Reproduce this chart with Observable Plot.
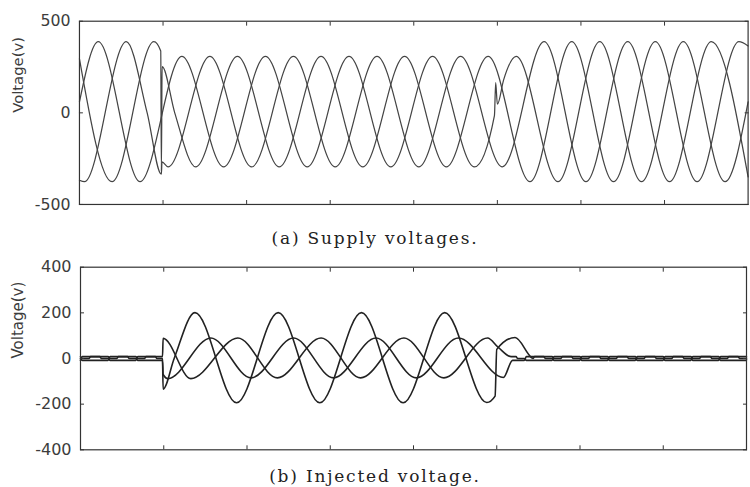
<!DOCTYPE html>
<html><head><meta charset="utf-8">
<script src="https://cdn.jsdelivr.net/npm/d3@7"></script>
<script src="https://cdn.jsdelivr.net/npm/@observablehq/plot@0.6"></script>
<style>
html,body{margin:0;padding:0;background:#fff;overflow:hidden;width:750px;height:487px}
#wrap{position:relative;width:750px;height:487px;overflow:hidden;background:#fff}
.panel{position:absolute;left:0}
.cap{position:absolute;left:0;width:750px;text-align:center;font-family:"DejaVu Serif",serif;font-size:17px;line-height:18px;letter-spacing:1.8px;color:#222}
</style></head><body><div id="wrap">
<div id="top" class="panel" style="top:0"></div>
<div class="cap" id="capA" style="top:229px"></div>
<div id="bot" class="panel" style="top:250px"></div>
<div class="cap" id="capB" style="top:467px"></div>
</div>
<script>
// time in ms, voltage in V
const xTicks = [20, 40, 60, 80, 100, 120, 140];
const supplyTicks = [-500, 0, 500];
const injectedTicks = [-400, -200, 0, 200, 400];
const yLabel = "Voltage(v)";
const captions = ["(a) Supply voltages.", "(b) Injected voltage."];

// (a) supply voltages: extrema and transient points
const supplyA = [[0,60],[4.5,388],[14.5,-376],[24.5,308],[34.5,-295],[44.5,308],[54.5,-295],[64.5,308],[74.5,-295],[84.5,308],[94.5,-295],[99.3,-15],[99.6,165],[100.0,47],[101.5,180],[104.5,308],[114.5,-376],[124.5,388],[134.5,-376],[144.5,388],[154.5,-376],[160,60]];
const supplyB = [[0,-368],[1.2,-376],[11.2,388],[16.2,0],[19.6,-335],[19.75,-268],[21.2,-295],[31.2,308],[41.2,-295],[51.2,308],[61.2,-295],[71.2,308],[81.2,-295],[91.2,308],[101.2,-295],[111.2,388],[121.2,-376],[131.2,388],[141.2,-376],[151.2,388],[160,-350]];
const supplyC = [[0,295],[7.8,-376],[17.8,388],[19.45,337],[19.6,-318],[19.78,252],[22.8,0],[27.8,-295],[37.8,308],[47.8,-295],[57.8,308],[67.8,-295],[77.8,308],[87.8,-295],[97.8,308],[107.8,-376],[117.8,388],[127.8,-376],[137.8,388],[147.8,-376],[157.8,388],[160,365]];

// (b) injected voltages (small ripple levels of about ±8 V outside the sag)
const injBig = [[0,-8],[0.45,8],[6.62,8],[7.12,0],[8.7,0],[9.1,8],[11.3,8],[11.7,0],[13.28,0],[13.78,-8],[19.7,-8],
  [19.85,-134],[22.5,0],[27.5,201],[37.5,-194],[47.5,201],[57.5,-194],[67.5,201],[77.5,-194],[87.5,201],[97.6,-193],[99.6,-165],[100.0,40],[104.4,92],[108.5,2],
  [108.7,0],[109.1,8],[111.3,8],[111.7,0],[113.28,0],[113.78,-8],[119.95,-8],[120.45,8],[126.62,8],[127.12,0],[128.7,0],[129.1,8],[131.3,8],[131.7,0],[133.28,0],[133.78,-8],[139.95,-8],
  [140.45,8],[146.62,8],[147.12,0],[148.7,0],[149.1,8],[151.3,8],[151.7,0],[153.28,0],[153.78,-8],[159.95,-8],[160,-6]];
const injM1 = [[0,0],[0.45,-8],[6.62,-8],[7.12,8],[13.28,8],[13.78,0],[15.37,0],[15.77,8],[17.97,8],[18.37,0],[19.7,0],
  [19.85,-70],[21,-88],[31.3,90],[41,-85],[51.2,90],[60.8,-85],[71,90],[80.7,-85],[90.8,90],[101.6,-83],[103.8,-8],
  [106.62,-8],[107.12,8],[113.28,8],[113.78,0],[115.37,0],[115.77,8],[117.97,8],[118.37,0],[119.95,0],[120.45,-8],[126.62,-8],[127.12,8],[133.28,8],[133.78,0],[135.37,0],[135.77,8],[137.97,8],[138.37,0],[139.95,0],
  [140.45,-8],[146.62,-8],[147.12,8],[153.28,8],[153.78,0],[155.37,0],[155.77,8],[157.97,8],[158.37,0],[160,0]];
const injM2 = [[0,8],[0.45,0],[2.03,0],[2.43,8],[4.63,8],[5.03,0],[6.62,0],[7.12,-8],[13.28,-8],[13.78,8],[19.7,8],
  [19.85,88],[26.5,-88],[37.8,90],[47.3,-85],[57.8,90],[67.3,-85],[77.7,90],[87.3,-85],[97.8,90],[100.3,50],[103.5,8],
  [104.63,8],[105.03,0],[106.62,0],[107.12,-8],[113.28,-8],[113.78,8],[119.95,8],[120.45,0],[122.03,0],[122.43,8],[124.63,8],[125.03,0],[126.62,0],[127.12,-8],[133.28,-8],[133.78,8],[139.95,8],
  [140.45,0],[142.03,0],[142.43,8],[144.63,8],[145.03,0],[146.62,0],[147.12,-8],[153.28,-8],[153.78,8],[159.95,8],[160,7]];

const rows = (series) => Object.entries(series).flatMap(([k, arr]) => arr.map(([t, v]) => ({phase: k, t, v})));
const supplyRows = rows({A: supplyA, B: supplyB, C: supplyC});
const injRows = rows({A: injBig, B: injM1, C: injM2});

const ink = "#333";
function panel(data, yTicks, opts) {
  return Plot.plot({
    width: opts.width, height: opts.height,
    marginLeft: 80, marginRight: opts.marginRight, marginTop: opts.marginTop, marginBottom: opts.marginBottom,
    x: {domain: [0, 160]},
    y: {domain: [yTicks[0], yTicks[yTicks.length - 1]]},
    style: {fontFamily: "'DejaVu Sans', sans-serif", fontSize: "16px", color: ink, background: "white", overflow: "visible"},
    marks: [
      Plot.line(data, {x: "t", y: "v", z: "phase", stroke: opts.stroke, strokeWidth: opts.strokeWidth, curve: "monotone-x"}),
      Plot.frame({stroke: ink, strokeWidth: 1.2}),
      Plot.axisY({ticks: yTicks, tickSize: 0, tickPadding: 9, stroke: "none", fill: "#3c3c3c", tickFormat: d => String(d), label: null}),
      Plot.axisY({ticks: yTicks, anchor: "left", tickSize: 4, dx: 4, fill: "none", label: null}),
      Plot.axisY({ticks: yTicks, anchor: "right", tickSize: 4, dx: -4, fill: "none", label: null}),
      Plot.axisX({ticks: xTicks, anchor: "bottom", tickSize: 4, dy: -4, fill: "none", label: null}),
      Plot.axisX({ticks: xTicks, anchor: "top", tickSize: 4, dy: 4, fill: "none", label: null}),
      Plot.text([yLabel], {frameAnchor: "left", rotate: -90, dx: -62, fontSize: 15, fill: "#3c3c3c"})
    ]
  });
}

document.getElementById("top").appendChild(panel(supplyRows, supplyTicks, {width: 760, height: 215, marginRight: 2.4, marginTop: 21, marginBottom: 8.3, stroke: "#444", strokeWidth: 1.25}));
document.getElementById("bot").appendChild(panel(injRows, injectedTicks, {width: 750, height: 205, marginRight: 4, marginTop: 16.7, marginBottom: 5.7, stroke: "#222", strokeWidth: 1.6}));
document.getElementById("capA").textContent = captions[0];
document.getElementById("capB").textContent = captions[1];
</script>
</body></html>
